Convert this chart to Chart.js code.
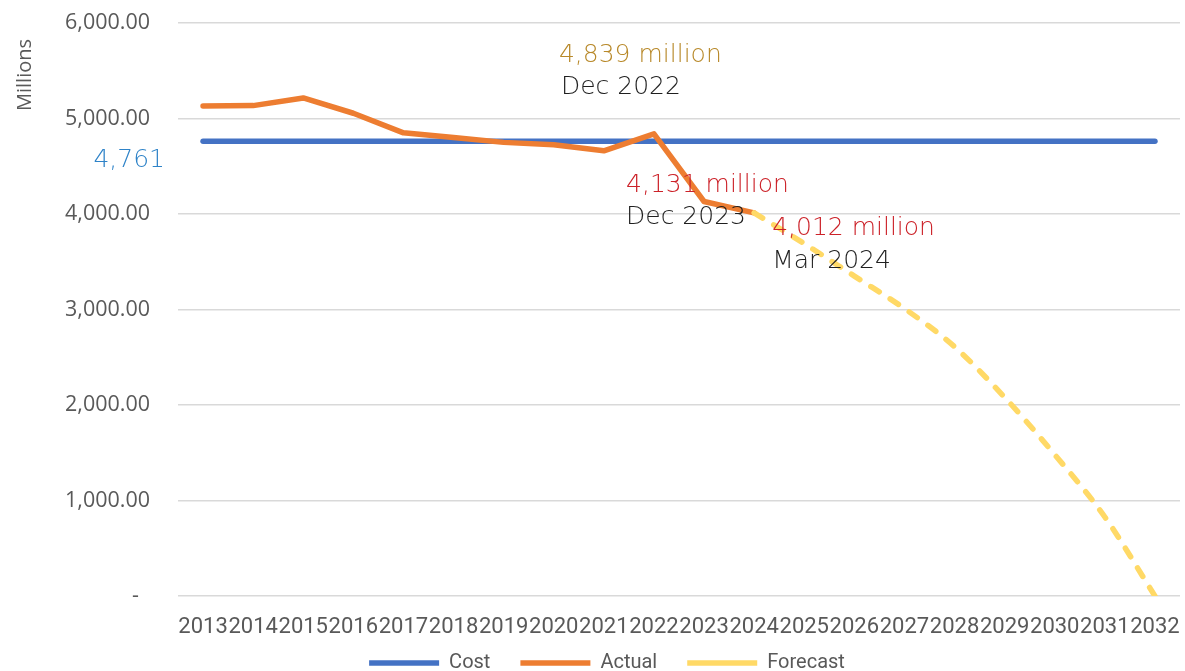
<!DOCTYPE html>
<html>
<head>
<meta charset="utf-8">
<script src="https://cdn.jsdelivr.net/npm/chart.js@4.4.1/dist/chart.umd.min.js"></script>
<style>
  html, body { margin: 0; padding: 0; background: #ffffff; overflow: hidden; }
  #wrap { width: 1185px; height: 698px; }
</style>
</head>
<body>
<div id="wrap"><canvas id="chart" width="1185" height="698"></canvas></div>
<script>
// Categories
const years = ['2013', '2014', '2015', '2016', '2017', '2018', '2019', '2020', '2021', '2022',
               '2023', '2024', '2025', '2026', '2027', '2028', '2029', '2030', '2031', '2032'];

// Series values (millions)
const costValues = [4761, 4761, 4761, 4761, 4761, 4761, 4761, 4761, 4761, 4761,
                    4761, 4761, 4761, 4761, 4761, 4761, 4761, 4761, 4761, 4761];
const actualValues = [5131, 5135, 5215, 5055, 4850, 4800, 4750, 4725, 4662, 4839,
                      4131, 4012, null, null, null, null, null, null, null, null];
const forecastValues = [null, null, null, null, null, null, null, null, null, null,
                        null, 4012, 3690, 3350, 3010, 2610, 2080, 1480, 827, 0];

// Value-axis tick labels, bottom to top
const yTickLabels = ['-  ', '1,000.00', '2,000.00', '3,000.00', '4,000.00', '5,000.00', '6,000.00'];

// Call-out texts
const costLabel = '4,761';
const peakLabel = ['4,839 million', 'Dec 2022'];
const decLabel = ['4,131 million', 'Dec 2023'];
const marLabel = ['4,012 million', 'Mar 2024'];

const GREY = '#595959';
const CALLOUT_FONT = '200 25px "DejaVu Sans"';
const CLEAR = 'rgba(0,0,0,0)';

// Pulls the legend up under the year labels and a little to the right
const legendNudge = {
  id: 'legendNudge',
  afterLayout(chart) {
    const lg = chart.legend;
    if (!lg) return;
    lg.top -= 15; lg.bottom -= 15;
    lg.left += 17; lg.right += 17;
  }
};

const calloutPlugin = {
  id: 'callouts',
  afterDatasetsDraw(chart) {
    const { ctx, scales: { x, y }, chartArea } = chart;
    ctx.save();
    ctx.font = CALLOUT_FONT;
    ctx.textBaseline = 'alphabetic';

    // Cost level, left of the plot
    ctx.textAlign = 'right';
    ctx.fillStyle = '#2E83C8';
    ctx.fillText(costLabel, chartArea.left - 13, y.getPixelForValue(costValues[0]) + 26);

    ctx.textAlign = 'left';
    // Dec 2022 peak
    const i22 = years.indexOf('2022');
    const px22 = x.getPixelForValue(i22), py22 = y.getPixelForValue(actualValues[i22]);
    ctx.fillStyle = '#B8892A';
    ctx.fillText(peakLabel[0], px22 - 95, py22 - 72);
    ctx.fillStyle = '#1F1F1F';
    ctx.fillText(peakLabel[1], px22 - 93, py22 - 40);

    // Dec 2023
    const i23 = years.indexOf('2023');
    const px23 = x.getPixelForValue(i23), py23 = y.getPixelForValue(actualValues[i23]);
    ctx.fillStyle = '#CC2229';
    ctx.fillText(decLabel[0], px23 - 78, py23 - 9);
    ctx.fillStyle = '#1F1F1F';
    ctx.fillText(decLabel[1], px23 - 78, py23 + 23);

    // Mar 2024
    const i24 = years.indexOf('2024');
    const px24 = x.getPixelForValue(i24), py24 = y.getPixelForValue(actualValues[i24]);
    ctx.fillStyle = '#CC2229';
    ctx.fillText(marLabel[0], px24 + 18, py24 + 22);
    ctx.fillStyle = '#1F1F1F';
    ctx.fillText(marLabel[1], px24 + 18, py24 + 55);

    // Value-axis title
    ctx.translate(25, 75);
    ctx.rotate(-Math.PI / 2);
    ctx.textAlign = 'center';
    ctx.textBaseline = 'middle';
    ctx.font = '20px "Open Sans"';
    ctx.fillStyle = GREY;
    ctx.fillText('Millions', 0, 0);
    ctx.restore();
  }
};

new Chart(document.getElementById('chart'), {
  type: 'line',
  data: {
    labels: years,
    datasets: [
      {
        label: 'Cost',
        data: costValues,
        borderColor: '#4472C4',
        backgroundColor: '#4472C4',
        borderWidth: 5.5,
        borderCapStyle: 'round',
        borderJoinStyle: 'round',
        pointRadius: 0,
        order: 3
      },
      {
        label: 'Actual',
        data: actualValues,
        borderColor: '#ED7D31',
        backgroundColor: '#ED7D31',
        borderWidth: 5.5,
        borderCapStyle: 'round',
        borderJoinStyle: 'round',
        pointRadius: 0,
        spanGaps: false,
        order: 2
      },
      {
        label: 'Forecast',
        data: forecastValues,
        borderColor: '#FFD966',
        backgroundColor: '#FFD966',
        borderWidth: 5.5,
        borderCapStyle: 'round',
        borderJoinStyle: 'round',
        borderDash: [10, 13],
        cubicInterpolationMode: 'monotone',
        pointRadius: 0,
        order: 1
      }
    ]
  },
  options: {
    responsive: false,
    animation: false,
    devicePixelRatio: 1,
    layout: { padding: { top: 23, right: 5, left: 0, bottom: 0 } },
    plugins: {
      tooltip: { enabled: false },
      legend: {
        position: 'bottom',
        labels: {
          usePointStyle: true,
          pointStyle: 'line',
          pointStyleWidth: 70,
          padding: 30,
          color: GREY,
          font: { family: 'Roboto', size: 20 },
          sort: (a, b) => a.datasetIndex - b.datasetIndex
        }
      }
    },
    scales: {
      x: {
        type: 'category',
        offset: true,
        grid: { display: false, drawOnChartArea: false, drawTicks: true, tickLength: 18, tickColor: CLEAR },
        border: { display: false },
        ticks: {
          autoSkip: false,
          maxRotation: 0,
          minRotation: 0,
          padding: 0,
          color: GREY,
          font: { family: 'Roboto', size: 22 }
        },
        afterFit: (s) => { s.height = 42; }
      },
      y: {
        min: 0,
        max: 6000,
        grid: { color: '#D9D9D9', lineWidth: 1.5, drawTicks: true, tickLength: 28, tickColor: CLEAR },
        border: { display: false },
        ticks: {
          stepSize: 1000,
          padding: 0,
          color: GREY,
          font: { family: 'Open Sans', size: 21.5 },
          callback: (v, i) => yTickLabels[i]
        },
        afterFit: (s) => { s.width = 178; }
      }
    }
  },
  plugins: [calloutPlugin, legendNudge]
});
</script>
</body>
</html>
